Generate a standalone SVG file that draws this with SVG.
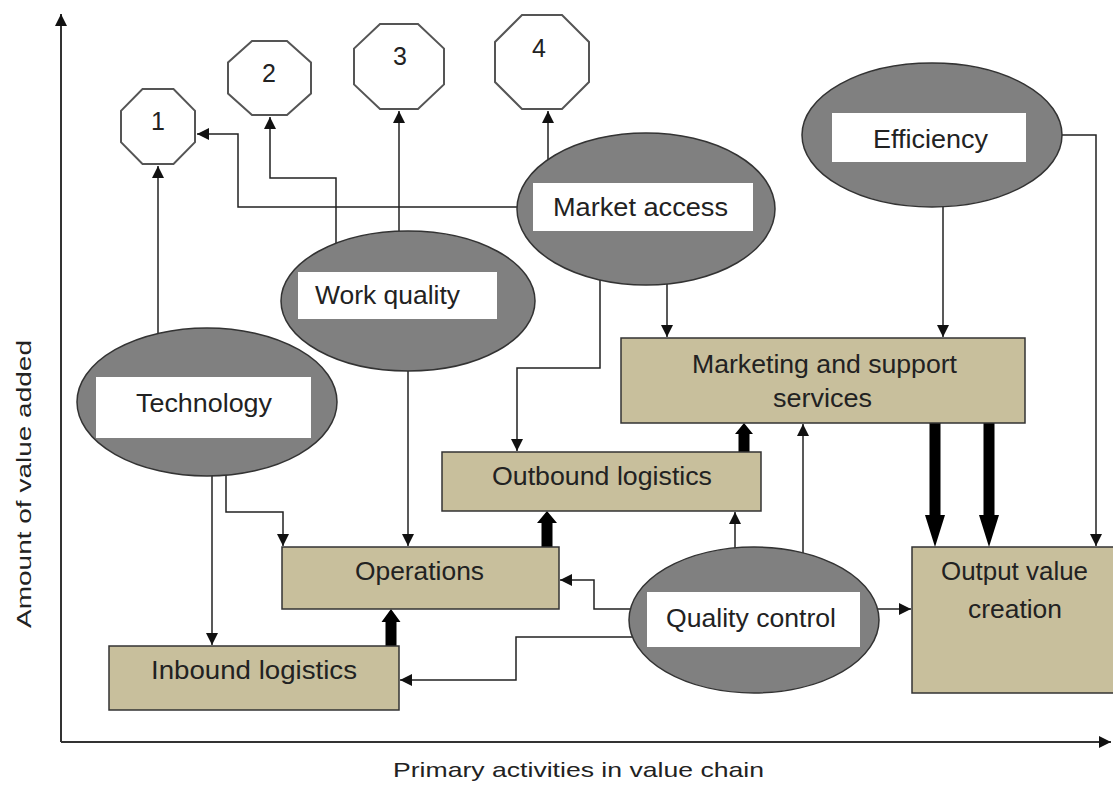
<svg xmlns="http://www.w3.org/2000/svg" width="1113" height="792" viewBox="0 0 1113 792">
<defs>
<style>
.ell{fill:#808080;stroke:#333;stroke-width:1.5}
.lbl{fill:#fff;stroke:none}
.box{fill:#c8bf9c;stroke:#333;stroke-width:1.5}
.oct{fill:#fff;stroke:#555;stroke-width:2}
.t{font-family:"Liberation Sans",Arial,sans-serif;font-size:25px;fill:#222}
.ax{font-family:"Liberation Sans",Arial,sans-serif;font-size:21px;fill:#222}
.c{fill:none;stroke:#222;stroke-width:1.5}
.axis{fill:none;stroke:#333;stroke-width:2}
.thick{fill:#000}
</style>
<marker id="ah" markerUnits="userSpaceOnUse" markerWidth="12" markerHeight="12" refX="12" refY="6" orient="auto" viewBox="0 0 12 12">
<path d="M0,0 L12,6 L0,12 z" fill="#111"/>
</marker>
</defs>
<rect width="1113" height="792" fill="#fff"/>

<g id="axes">
<path class="axis" d="M61,742 L61,14" marker-end="url(#ah)"/>
<path class="axis" d="M61,742 L1111,742" marker-end="url(#ah)"/>
<text class="ax" x="393" y="777" textLength="371" lengthAdjust="spacingAndGlyphs">Primary activities in value chain</text>
<text class="ax" transform="translate(31,628) rotate(-90)" x="0" y="0" textLength="288" lengthAdjust="spacingAndGlyphs">Amount of value added</text>
</g>

<g id="connectors">
<path class="c" d="M517,207 L238,207 L238,134 L197,134" marker-end="url(#ah)"/>
<path class="c" d="M158,334 L158,166" marker-end="url(#ah)"/>
<path class="c" d="M336,243 L336,178 L270,178 L270,117" marker-end="url(#ah)"/>
<path class="c" d="M399,231 L399,111" marker-end="url(#ah)"/>
<path class="c" d="M548,160 L548,111" marker-end="url(#ah)"/>
<path class="c" d="M212,476 L212,645" marker-end="url(#ah)"/>
<path class="c" d="M226,475 L226,512 L283,512 L283,546" marker-end="url(#ah)"/>
<path class="c" d="M408,371 L408,546" marker-end="url(#ah)"/>
<path class="c" d="M600,280 L600,368 L517,368 L517,451" marker-end="url(#ah)"/>
<path class="c" d="M667,284 L667,337" marker-end="url(#ah)"/>
<path class="c" d="M943,207 L943,337" marker-end="url(#ah)"/>
<path class="c" d="M1062,135 L1096,135 L1096,546" marker-end="url(#ah)"/>
<path class="c" d="M878,609 L911,609" marker-end="url(#ah)"/>
<path class="c" d="M735,548 L735,512" marker-end="url(#ah)"/>
<path class="c" d="M803,553 L803,424" marker-end="url(#ah)"/>
<path class="c" d="M630,609 L594,609 L594,580 L560,580" marker-end="url(#ah)"/>
<path class="c" d="M632,637 L516,637 L516,680 L400,680" marker-end="url(#ah)"/>
<polygon class="thick" points="385.5,646 396.5,646 396.5,622 400.5,622 391,609 381.5,622 385.5,622"/>
<polygon class="thick" points="541.5,547 552.5,547 552.5,523 557,523 547,511 537,523 541.5,523"/>
<polygon class="thick" points="738.5,452 749.5,452 749.5,434 753,434 744,423 735,434 738.5,434"/>
<polygon class="thick" points="929.5,423 940.5,423 940.5,515 945,515 935,547 925,515 929.5,515"/>
<polygon class="thick" points="983.5,423 994.5,423 994.5,515 999,515 989,547 979,515 983.5,515"/>
</g>

<g id="oct1"><polygon class="oct" points="142.5,89 173.5,89 195,110.8 195,142.2 173.5,164 142.5,164 121,142.2 121,110.8"/><text class="t" x="158" y="130" text-anchor="middle">1</text></g>
<g id="oct2"><polygon class="oct" points="252,41 287,41 311,62.5 311,93.5 287,115 252,115 228,93.5 228,62.5"/><text class="t" x="269" y="82" text-anchor="middle">2</text></g>
<g id="oct3"><polygon class="oct" points="380,24 418,24 444,48.6 444,84.4 418,109 380,109 354,84.4 354,48.6"/><text class="t" x="400" y="65" text-anchor="middle">3</text></g>
<g id="oct4"><polygon class="oct" points="522,15 562,15 589,42 589,82 562,109 522,109 495,82 495,42"/><text class="t" x="539" y="57" text-anchor="middle">4</text></g>

<g id="market-access"><ellipse class="ell" cx="646" cy="209" rx="129" ry="76"/><rect class="lbl" x="533" y="183" width="220" height="48"/><text class="t" x="553" y="216" textLength="175" lengthAdjust="spacingAndGlyphs">Market access</text></g>
<g id="efficiency"><ellipse class="ell" cx="932" cy="135" rx="130" ry="72"/><rect class="lbl" x="832" y="113" width="194" height="49"/><text class="t" x="873" y="148" textLength="115" lengthAdjust="spacingAndGlyphs">Efficiency</text></g>
<g id="work-quality"><ellipse class="ell" cx="408" cy="301" rx="127" ry="70"/><rect class="lbl" x="298" y="272" width="199" height="47"/><text class="t" x="315" y="304" textLength="145" lengthAdjust="spacingAndGlyphs">Work quality</text></g>
<g id="technology"><ellipse class="ell" cx="207" cy="402" rx="130" ry="74"/><rect class="lbl" x="96" y="377" width="215" height="61"/><text class="t" x="136" y="412" textLength="136" lengthAdjust="spacingAndGlyphs">Technology</text></g>
<g id="quality-control"><ellipse class="ell" cx="754" cy="620" rx="125" ry="73"/><rect class="lbl" x="647" y="592" width="213" height="55"/><text class="t" x="666" y="627" textLength="170" lengthAdjust="spacingAndGlyphs">Quality control</text></g>

<g id="marketing"><rect class="box" x="621" y="338" width="404" height="85"/><text class="t" x="692" y="373" textLength="265" lengthAdjust="spacingAndGlyphs">Marketing and support</text><text class="t" x="773" y="407" textLength="99" lengthAdjust="spacingAndGlyphs">services</text></g>
<g id="outbound"><rect class="box" x="442" y="452" width="319" height="59"/><text class="t" x="492" y="485" textLength="220" lengthAdjust="spacingAndGlyphs">Outbound logistics</text></g>
<g id="operations"><rect class="box" x="282" y="547" width="277" height="62"/><text class="t" x="355" y="580" textLength="129" lengthAdjust="spacingAndGlyphs">Operations</text></g>
<g id="inbound"><rect class="box" x="109" y="646" width="290" height="64"/><text class="t" x="151" y="679" textLength="206" lengthAdjust="spacingAndGlyphs">Inbound logistics</text></g>
<g id="output"><rect class="box" x="912" y="547" width="205" height="146"/><text class="t" x="941" y="580" textLength="147" lengthAdjust="spacingAndGlyphs">Output value</text><text class="t" x="968" y="618" textLength="94" lengthAdjust="spacingAndGlyphs">creation</text></g>
</svg>
